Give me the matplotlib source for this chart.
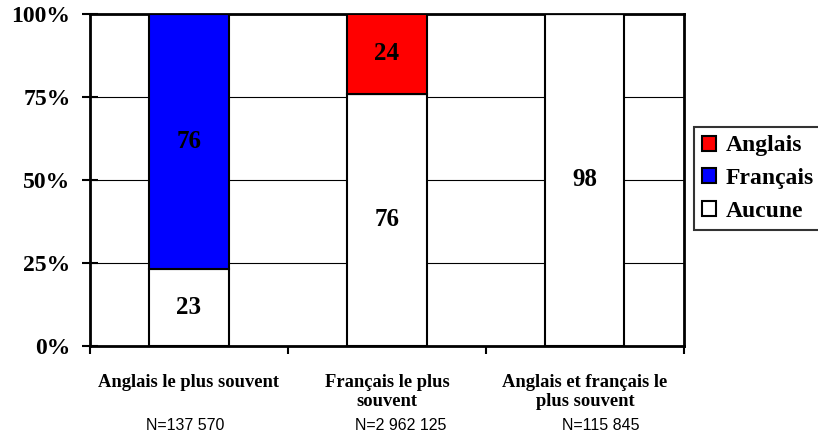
import numpy as np
import matplotlib
matplotlib.use("Agg")
import matplotlib.pyplot as plt
from matplotlib.patches import Patch

categories = ["Anglais le plus souvent", "Français le plus\nsouvent", "Anglais et français le\nplus souvent"]
n_labels = ["N=137 570", "N=2 962 125", "N=115 845"]
aucune = [23, 76, 98]
francais = [76, 0, 0]
anglais = [0, 24, 0]

# 100% stacked, like the spreadsheet version
tot = np.array(aucune) + np.array(francais) + np.array(anglais)
p_auc = np.array(aucune) / tot * 100
p_fra = np.array(francais) / tot * 100
p_ang = np.array(anglais) / tot * 100

serif = "Liberation Serif"
fig = plt.figure(figsize=(8.18, 4.34), dpi=100)
ax = fig.add_axes([0.110, 0.203, 0.726, 0.765])

x = np.arange(len(categories))
w = 0.4
ax.bar(x, p_auc, w, color="white", edgecolor="black", linewidth=1.5, zorder=3)
ax.bar(x, p_fra, w, bottom=p_auc, color="#0000ff", edgecolor="black", linewidth=1.5, zorder=3)
ax.bar(x, p_ang, w, bottom=p_auc + p_fra, color="#ff0000", edgecolor="black", linewidth=1.5, zorder=3)

for i in range(len(x)):
    for vals, pct, bot in [(aucune, p_auc, 0), (francais, p_fra, p_auc), (anglais, p_ang, p_auc + p_fra)]:
        if vals[i] > 0:
            b = bot if np.isscalar(bot) else bot[i]
            ax.text(x[i], b + pct[i] / 2, str(vals[i]), ha="center", va="center",
                    fontsize=18, fontweight="bold", family=serif, zorder=4)

ax.set_xlim(-0.5, 2.5)
ax.set_ylim(0, 100)
ax.set_yticks([0, 25, 50, 75, 100])
ax.set_yticklabels(["0%", "25%", "50%", "75%", "100%"], fontsize=17, fontweight="bold", family=serif)
ax.yaxis.grid(True, color="black", linewidth=0.8)
ax.set_axisbelow(True)
ax.set_xticks([-0.5, 0.5, 1.5, 2.5])
ax.set_xticklabels([])
ax.tick_params(axis="y", direction="inout", length=12, width=1.5, pad=8)
ax.tick_params(axis="x", direction="out", length=6, width=1.5)
for s in ax.spines.values():
    s.set_linewidth(2)
    s.set_color("black")

n_pos = [-0.02, 1.07, 2.08]  # the N= boxes are not quite centred in the original
for i in range(len(x)):
    ax.text(x[i], -8.5, categories[i], ha="center", va="top", fontsize=13.3,
            fontweight="bold", family=serif, transform=ax.transData, linespacing=1.15)
    ax.text(n_pos[i], -24, n_labels[i], ha="center", va="center", fontsize=11.5,
            family="Liberation Sans", transform=ax.transData)

handles = [Patch(facecolor="#ff0000", edgecolor="black", linewidth=1.5, label="Anglais"),
           Patch(facecolor="#0000ff", edgecolor="black", linewidth=1.5, label="Français"),
           Patch(facecolor="white", edgecolor="black", linewidth=1.5, label="Aucune")]
leg = fig.legend(handles=handles, loc="upper left", bbox_to_anchor=(0.848, 0.707),
                 prop={"family": serif, "weight": "bold", "size": 17},
                 frameon=True, fancybox=False, edgecolor="black",
                 handlelength=0.6, handleheight=0.6, handletextpad=0.42,
                 borderpad=0.35, labelspacing=0.5, borderaxespad=0)
leg.get_frame().set_linewidth(1.5)

fig.savefig("out.png", dpi=100)
